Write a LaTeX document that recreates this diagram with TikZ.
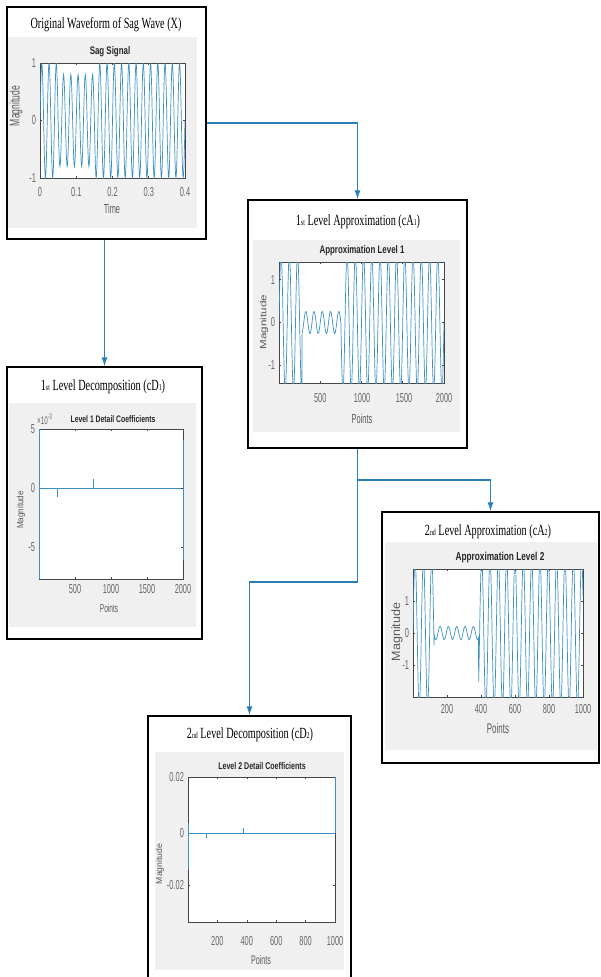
\documentclass[tikz,border=0pt]{standalone}
\usepackage{fontspec}
\setmainfont{Liberation Serif}
\setsansfont{Liberation Sans}
\newfontfamily\ttlfont[FakeStretch=0.66]{Liberation Serif}
\newfontfamily\plotfont[FakeStretch=0.72]{Liberation Sans}
\newfontfamily\tickfont[FakeStretch=0.57]{Liberation Sans}
\usetikzlibrary{arrows.meta}

\definecolor{figgray}{RGB}{240,240,240}
\definecolor{axgray}{RGB}{70,70,70}
\definecolor{sigblue}{RGB}{60,145,195}
\definecolor{flowblue}{RGB}{40,128,180}

\tikzset{every picture/.style={line width=0.75pt}}
\tikzset{
  stagebox/.style={draw, line width=1.4pt, fill=white, inner sep=0pt},
  figpanel/.style={fill=figgray, draw=none},
  axbox/.style={draw=axgray, fill=white, line width=0.6pt},
  tickmark/.style={draw=axgray, line width=0.6pt},
  sigline/.style={draw=sigblue, line width=0.7pt},
  flow/.style={draw=flowblue, line width=1.2pt, -{Latex[length=9pt,width=6pt]}},
  stagetitle/.style={inner sep=0.75pt, font=\ttlfont\fontsize{15.5}{15.5}\selectfont},
  plottitle/.style={inner sep=0.75pt, font=\plotfont\bfseries\fontsize{11}{11}\selectfont, text=black!85},
  ticklbl/.style={inner sep=0.75pt, font=\tickfont\fontsize{13}{13}\selectfont, text=black!60},
  axlbl/.style={inner sep=0.75pt, font=\tickfont\fontsize{13}{13}\selectfont, text=black!65},
  maglbl/.style={inner sep=0.75pt, rotate=90, text=black!65},
}
\newcommand{\smallpart}[1]{{\fontsize{9}{9}\selectfont #1}}

\begin{document}
\begin{tikzpicture}[x=1pt,y=1pt,yscale=-1,xscale=1]
\useasboundingbox (0,0) rectangle (600,977);
\clip (0,0) rectangle (600,977);

%Shape: Rectangle (stage boxes)
\node[stagebox, minimum width=199pt, minimum height=232pt] (X) at (106.5,123) {};
\node[stagebox, minimum width=219pt, minimum height=248pt] (cA1) at (357.5,324) {};
\node[stagebox, minimum width=195pt, minimum height=272pt] (cD1) at (104.5,503) {};
\node[stagebox, minimum width=217pt, minimum height=251pt] (cA2) at (490.5,637.5) {};
\node[stagebox, minimum width=203pt, minimum height=274pt] (cD2) at (249.5,853) {};

%%%%%%%% Original waveform (X)
% Text Node
\node[stagetitle] (tX) at (106,25) {Original Waveform of Sag Wave (X)};
%Shape: Rectangle
\fill[figpanel] (8,37) rectangle (197,228);
\node[plottitle] (pX) at (110,52) {Sag Signal};
\draw[axbox] (40,63) rectangle (185,178);
\begin{scope}
\clip (40,63) rectangle (185,178);
% time in ms
\draw[sigline] plot[domain=0:400, samples=401] ({40+0.3625*\x},{120.5-(((\x>50)&&(\x<150)) ? 46 : 57.5)*sin(18*\x)});
\end{scope}
\draw[tickmark] (76.25,178) -- (76.25,176) (112.5,178) -- (112.5,176) (148.75,178) -- (148.75,176) (76.25,63) -- (76.25,65) (112.5,63) -- (112.5,65) (148.75,63) -- (148.75,65) (40,120.5) -- (42,120.5) (185,120.5) -- (183,120.5);
% Text Node
\node[ticklbl, anchor=east] (yX1) at (37,63) {1};
\node[ticklbl, anchor=east] (yX2) at (37,120.5) {0};
\node[ticklbl, anchor=east] (yX3) at (37,178) {-1};
\node[ticklbl] (xX1) at (40,192) {0};
\node[ticklbl] (xX2) at (76.25,192) {0.1};
\node[ticklbl] (xX3) at (112.5,192) {0.2};
\node[ticklbl] (xX4) at (148.75,192) {0.3};
\node[ticklbl] (xX5) at (185,192) {0.4};
\node[axlbl] (lX) at (112,209) {Time};
\node[maglbl, font=\plotfont\fontsize{14}{14}\selectfont] (mX) at (16,106) {\scalebox{0.85}[1]{Magnitude}};

%%%%%%%% First level approximation (cA1)
% Text Node
\node[stagetitle] (tA1) at (358,222) {1\smallpart{st} Level Approximation (cA\smallpart{1})};
%Shape: Rectangle
\fill[figpanel] (253,240) rectangle (460,432);
\node[plottitle] (pA1) at (362,251) {Approximation Level 1};
\draw[axbox] (279,262) rectangle (444,383);
\begin{scope}
\clip (279,262) rectangle (444,383);
\draw[sigline] plot[domain=0:2000, samples=801] ({279+0.0825*\x},{322.5-(((\x<280)||(\x>750)) ? 68 : 11)*sin(3.6*\x)});
\end{scope}
\draw[tickmark] (320.25,383) -- (320.25,381) (361.5,383) -- (361.5,381) (402.75,383) -- (402.75,381) (320.25,262) -- (320.25,264) (361.5,262) -- (361.5,264) (402.75,262) -- (402.75,264) (279,279.7) -- (281,279.7) (279,322.5) -- (281,322.5) (279,365.3) -- (281,365.3) (444,279.7) -- (442,279.7) (444,322.5) -- (442,322.5) (444,365.3) -- (442,365.3);
% Text Node
\node[ticklbl, anchor=east] (yA11) at (276,279.7) {1};
\node[ticklbl, anchor=east] (yA12) at (276,322.5) {0};
\node[ticklbl, anchor=east] (yA13) at (276,365.3) {-1};
\node[ticklbl] (xA11) at (320.25,398) {500};
\node[ticklbl] (xA12) at (362,398) {1000};
\node[ticklbl] (xA13) at (404,398) {1500};
\node[ticklbl] (xA14) at (444,398) {2000};
\node[axlbl] (lA1) at (362,419) {Points};
\node[maglbl, font=\plotfont\fontsize{9}{9}\selectfont] (mA1) at (264,322) {\scalebox{1.8}[1]{Magnitude}};

%%%%%%%% First level decomposition (cD1)
% Text Node
\node[stagetitle] (tD1) at (103,387) {1\smallpart{st} Level Decomposition (cD\smallpart{1})};
%Shape: Rectangle
\fill[figpanel] (9,403) rectangle (196,627);
\node[plottitle, font=\plotfont\bfseries\fontsize{9.5}{9.5}\selectfont] (pD1) at (113,419) {Level 1 Detail Coefficients};
\node[ticklbl, anchor=south west, font=\tickfont\fontsize{11}{11}\selectfont] (eD1) at (36,426) {×10\raisebox{5pt}{\fontsize{8}{8}\selectfont -3}};
\draw[axbox] (39,429) rectangle (183,579);
\draw[sigline] (39,429) -- (39,579);
\draw[sigline] (39,488) -- (183,488);
\draw[sigline] (57,488) -- (57,497);
\draw[sigline] (93,488) -- (93,479);
\draw[sigline] (183,440) -- (183,560);
\draw[tickmark] (75,579) -- (75,577) (111,579) -- (111,577) (147,579) -- (147,577) (75,429) -- (75,431) (111,429) -- (111,431) (147,429) -- (147,431) (183,547) -- (181,547) (183,488) -- (181,488);
% Text Node
\node[ticklbl, anchor=east] (yD11) at (36,429) {5};
\node[ticklbl, anchor=east] (yD12) at (36,488) {0};
\node[ticklbl, anchor=east] (yD13) at (36,547) {-5};
\node[ticklbl] (xD11) at (75,589) {500};
\node[ticklbl] (xD12) at (111,589) {1000};
\node[ticklbl] (xD13) at (147,589) {1500};
\node[ticklbl] (xD14) at (183,589) {2000};
\node[axlbl, font=\tickfont\fontsize{11.5}{11.5}\selectfont] (lD1) at (109,608) {Points};
\node[maglbl, font=\plotfont\fontsize{9}{9}\selectfont] (mD1) at (21,510) {\scalebox{1.25}[1]{Magnitude}};

%%%%%%%% Second level approximation (cA2)
% Text Node
\node[stagetitle] (tA2) at (488,532) {2\smallpart{nd} Level Approximation (cA\smallpart{2})};
%Shape: Rectangle
\fill[figpanel] (385,542) rectangle (597,750);
\node[plottitle, font=\plotfont\bfseries\fontsize{11.5}{11.5}\selectfont] (pA2) at (500,558) {Approximation Level 2};
\draw[axbox] (413,569) rectangle (583,697);
\begin{scope}
\clip (413,569) rectangle (583,697);
\draw[sigline] plot[domain=0:1000, samples=801] ({413+0.17*\x},{633-(((\x<125)||(\x>385)) ? 74 : 6.5)*sin(7.35*\x)});
\end{scope}
\draw[tickmark] (447,697) -- (447,695) (481,697) -- (481,695) (515,697) -- (515,695) (549,697) -- (549,695) (447,569) -- (447,571) (481,569) -- (481,571) (515,569) -- (515,571) (549,569) -- (549,571) (413,601) -- (415,601) (413,633) -- (415,633) (413,665) -- (415,665) (583,601) -- (581,601) (583,633) -- (581,633) (583,665) -- (581,665);
% Text Node
\node[ticklbl, anchor=east] (yA21) at (410,601) {1};
\node[ticklbl, anchor=east] (yA22) at (410,633) {0};
\node[ticklbl, anchor=east] (yA23) at (410,665) {-1};
\node[ticklbl] (xA21) at (447,709) {200};
\node[ticklbl] (xA22) at (481,709) {400};
\node[ticklbl] (xA23) at (515,709) {600};
\node[ticklbl] (xA24) at (549,709) {800};
\node[ticklbl] (xA25) at (583,709) {1000};
\node[axlbl, font=\tickfont\fontsize{14}{14}\selectfont] (lA2) at (498,728) {Points};
\node[maglbl, font=\plotfont\fontsize{12}{12}\selectfont] (mA2) at (397,632) {\scalebox{1.45}[1]{Magnitude}};

%%%%%%%% Second level decomposition (cD2)
% Text Node
\node[stagetitle] (tD2) at (250,735) {2\smallpart{nd} Level Decomposition (cD\smallpart{2})};
%Shape: Rectangle
\fill[figpanel] (155,752) rectangle (344,970);
\node[plottitle, font=\plotfont\bfseries\fontsize{9.8}{9.8}\selectfont] (pD2) at (262,766) {Level 2 Detail Coefficients};
\draw[axbox] (188,777) rectangle (335,922);
\draw[sigline] (188,823) -- (188,870);
\draw[sigline] (188,833) -- (335,833);
\draw[sigline] (206,833) -- (206,838);
\draw[sigline] (243,833) -- (243,828);
\draw[sigline] (335,777) -- (335,833);
\draw[tickmark] (217.4,922) -- (217.4,920) (246.8,922) -- (246.8,920) (276.2,922) -- (276.2,920) (305.6,922) -- (305.6,920) (217.4,777) -- (217.4,779) (246.8,777) -- (246.8,779) (276.2,777) -- (276.2,779) (305.6,777) -- (305.6,779) (188,885) -- (190,885) (335,885) -- (333,885);
% Text Node
\node[ticklbl, anchor=east] (yD21) at (185,777) {0.02};
\node[ticklbl, anchor=east] (yD22) at (185,833) {0};
\node[ticklbl, anchor=east] (yD23) at (185,885) {-0.02};
\node[ticklbl] (xD21) at (217.4,941) {200};
\node[ticklbl] (xD22) at (246.8,941) {400};
\node[ticklbl] (xD23) at (276.2,941) {600};
\node[ticklbl] (xD24) at (305.6,941) {800};
\node[ticklbl] (xD25) at (335,941) {1000};
\node[axlbl, font=\tickfont\fontsize{12.5}{12.5}\selectfont] (lD2) at (261,960) {Points};
\node[maglbl, font=\plotfont\fontsize{8.5}{8.5}\selectfont] (mD2) at (160,864) {\scalebox{1.4}[1]{Magnitude}};

%Straight Lines (connectors)
\coordinate (fork) at (357.5,480);
\coordinate (bend) at (357.5,582);
\draw[flow] (X.east) -| (cA1.north);
\draw[flow] (cD1.north |- X.south) -- (cD1.north);
\draw[flow] (cA1.south) -- (fork) -| (cA2.north);
\draw[flow] (fork) -- (bend) -| (cD2.north);

\end{tikzpicture}
\end{document}
